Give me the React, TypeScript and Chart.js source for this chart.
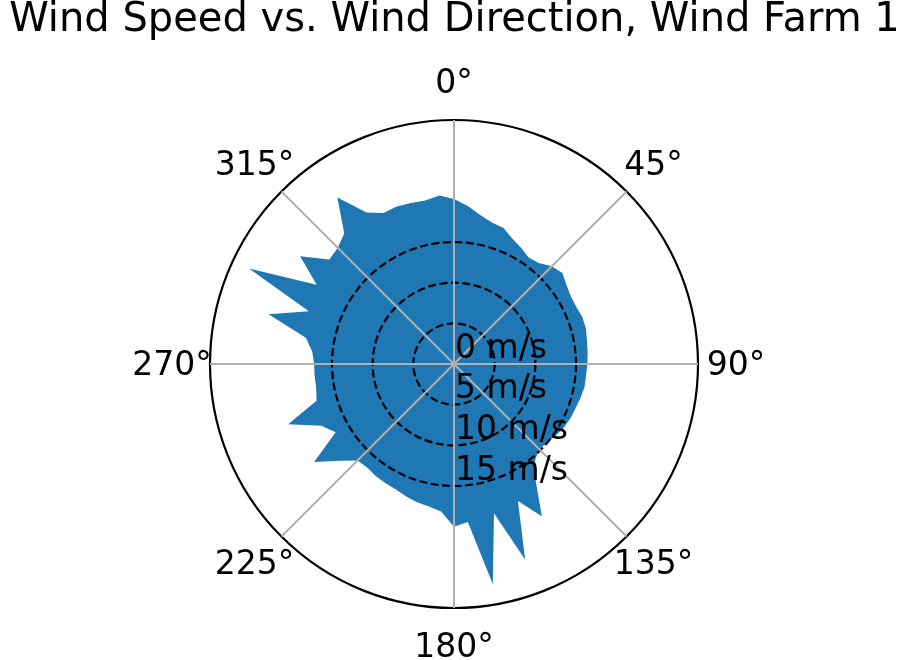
import { useEffect, useRef } from 'react';
import { Chart, registerables } from 'chart.js';

Chart.register(...registerables);

// Wind direction (degrees, clockwise from north)
const directionDeg = [
  0, 5, 10, 15, 20, 25, 30, 35, 40, 45, 50, 55,
  60, 65, 70, 75, 80, 85, 90, 95, 100, 105, 110, 115,
  120, 125, 130, 135, 140, 145, 150, 155, 160, 165, 170, 175,
  180, 185, 190, 195, 200, 205, 210, 215, 220, 225, 230, 235,
  240, 245, 250, 255, 260, 265, 270, 275, 280, 285, 290, 295,
  300, 305, 310, 315, 320, 325, 330, 335, 340, 345, 350, 355,
];

// Wind speed (m/s) per direction
const windSpeed = [
  20.3, 19.5, 18.6, 18.0, 17.8, 17.0, 16.5, 16.0, 16.2, 17.0, 17.4, 16.9,
  16.6, 16.6, 16.8, 16.8, 16.6, 16.5, 16.4, 16.3, 16.3, 16.1, 15.9, 15.8,
  15.6, 15.3, 15.0, 14.8, 15.5, 17.5, 21.6, 18.6, 25.6, 19.0, 27.5, 19.5,
  20.0, 18.2, 17.8, 17.6, 17.3, 17.0, 16.9, 16.8, 16.6, 16.8, 18.5, 21.0,
  16.8, 18.0, 21.7, 17.5, 17.2, 17.2, 17.2, 17.5, 18.5, 23.6, 19.0, 27.8,
  19.5, 23.1, 20.0, 20.2, 21.0, 25.0, 21.5, 20.5, 20.6, 20.5, 20.4, 20.8,
];

const angleTickLabels = ['0°', '45°', '90°', '135°', '180°', '225°', '270°', '315°'];
const angleTickEvery = 9;
const speedTickValues = [0, 5, 10, 15];
const speedTickLabels = ['0 m/s', '5 m/s', '10 m/s', '15 m/s'];
const dashedRings = [5, 10, 15];
const speedMax = 30;

const titleText = 'Wind Speed vs. Wind Direction, Wind Farm 1';
const FONT = '"DejaVu Sans", "Liberation Sans", sans-serif';

const polarLabels = {
  id: 'polarLabels',
  afterDraw(chart: any) {
    const s = chart.scales.r;
    const ctx = chart.ctx;
    ctx.save();
    ctx.fillStyle = '#000';
    ctx.font = `33px ${FONT}`;
    ctx.textBaseline = 'middle';
    ctx.textAlign = 'center';
    const R = s.drawingArea;
    angleTickLabels.forEach((lab, i) => {
      const p = s.getPointPosition(i * angleTickEvery, R + 38);
      ctx.fillText(lab, p.x, p.y + 2);
    });
    ctx.textAlign = 'left';
    speedTickValues.forEach((v, i) => {
      const d = s.getDistanceFromCenterForValue(v);
      ctx.fillText(speedTickLabels[i], s.xCenter + 1, s.yCenter + d - 15);
    });
    ctx.restore();
  },
};

export default function App() {
  const ref = useRef<HTMLCanvasElement | null>(null);
  useEffect(() => {
    if (!ref.current) return;
    const chart = new Chart(ref.current, {
      type: 'radar',
      data: {
        labels: directionDeg.map((d) => `${d}°`),
        datasets: [
          {
            data: windSpeed,
            fill: true,
            backgroundColor: '#1f77b4',
            borderColor: '#1f77b4',
            borderWidth: 0,
            pointRadius: 0,
            pointHoverRadius: 0,
          },
        ],
      },
      options: {
        animation: false,
        responsive: false,
        layout: { padding: { left: 4, right: 0, top: 0, bottom: 52 } },
        plugins: {
          legend: { display: false },
          tooltip: { enabled: false },
          title: {
            display: true,
            text: titleText,
            color: '#000',
            font: { family: FONT, size: 40, weight: 'normal', lineHeight: 0.9 },
            padding: { top: 3, bottom: 81 },
          },
        },
        scales: {
          r: {
            min: 0,
            max: speedMax,
            ticks: { stepSize: 5, display: false },
            pointLabels: { display: false },
            grid: {
              circular: true,
              z: 1,
              color: (c: any) =>
                c.tick && (dashedRings.includes(c.tick.value) || c.tick.value === speedMax)
                  ? '#000'
                  : 'rgba(0,0,0,0)',
              lineWidth: (c: any) => (c.tick && c.tick.value === speedMax ? 2.2 : 2.2),
            },
            border: {
              dash: (c: any) => (c.tick && c.tick.value === speedMax ? [] : [8, 3.5]),
            },
            angleLines: {
              color: '#b0b0b0',
              lineWidth: (c: any) => (c.index % angleTickEvery === 0 ? 2 : 0),
            },
          },
        },
      },
      plugins: [polarLabels],
    } as any);
    return () => chart.destroy();
  }, []);
  return (
    <div style={{ position: 'fixed', left: 0, top: 0, width: 905, height: 660, background: '#fff' }}>
      <canvas ref={ref} width={905} height={660} style={{ display: 'block' }} />
    </div>
  );
}
